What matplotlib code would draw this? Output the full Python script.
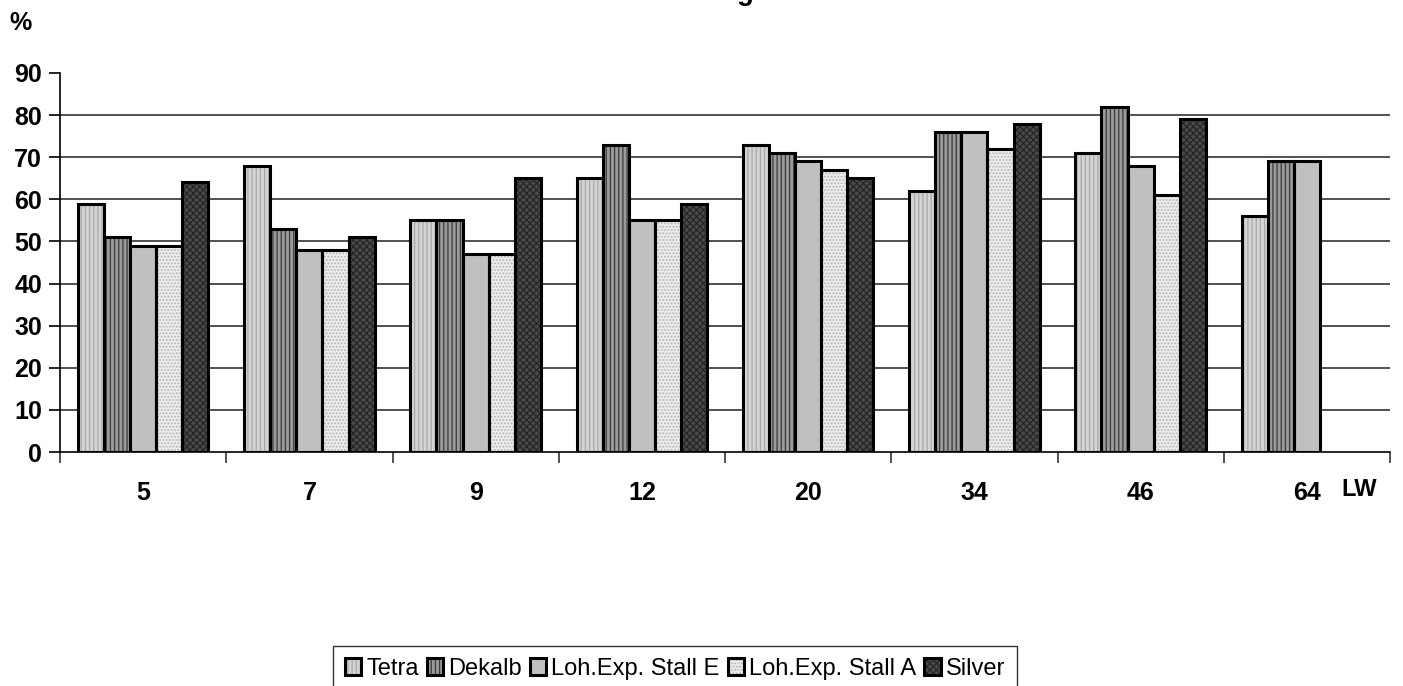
import numpy as np
import matplotlib
matplotlib.use("Agg")
import matplotlib.pyplot as plt
from matplotlib.legend_handler import HandlerTuple

plt.rcParams['font.family'] = ['Liberation Sans', 'DejaVu Sans']
plt.rcParams['hatch.linewidth'] = 0.9

# data
weeks = ['5', '7', '9', '12', '20', '34', '46', '64']
series = ['Tetra', 'Dekalb', 'Loh.Exp. Stall E', 'Loh.Exp. Stall A', 'Silver']
tetra = [59, 68, 55, 65, 73, 62, 71, 56]
dekalb = [51, 53, 55, 73, 71, 76, 82, 69]
stall_e = [49, 48, 47, 55, 69, 76, 68, 69]
stall_a = [49, 48, 47, 55, 67, 72, 61, np.nan]
silver = [64, 51, 65, 59, 65, 78, 79, np.nan]
values = [tetra, dekalb, stall_e, stall_a, silver]

# (face, hatch, hatch colour)
styles = [
    ('#d4d4d4', '||||', '#a8a8a8'),
    ('#9a9a9a', '||||', '#3a3a3a'),
    ('#c0c0c0', '', '#c0c0c0'),
    ('#ececec', '.....', '#b4b4b4'),
    ('#4a4a4a', 'xxxxx', '#262626'),
]

fig = plt.figure(figsize=(14.03, 6.86), dpi=100)
ax = fig.add_axes([60 / 1403, 1 - 452 / 686, 1330 / 1403, 379 / 686])

x = np.arange(len(weeks))
w = 0.157
handles = []
for i, (vals, (fc, hatch, hc)) in enumerate(zip(values, styles)):
    pos = x + (i - 2) * w
    b1 = ax.bar(pos, vals, w, color=fc, hatch=hatch, edgecolor=hc, linewidth=0, zorder=3)
    b2 = ax.bar(pos, vals, w, facecolor='none', edgecolor='black', linewidth=2.2, zorder=4)
    handles.append((b1[0], b2[0]))

ax.set_xlim(-0.5, len(weeks) - 0.5)
ax.set_ylim(0, 90)
ax.set_yticks(range(0, 91, 10))
for yv in range(10, 90, 10):
    ax.axhline(yv, color='#333333', linewidth=1.2, zorder=1)

ax.set_xticks(x)
ax.set_xticklabels(weeks, fontsize=18, fontweight='bold')
ax.set_xticks(np.arange(-0.5, len(weeks)), minor=True)
ax.tick_params(axis='x', which='major', length=0, pad=21)
ax.tick_params(axis='x', which='minor', length=8, width=1.2, color='#333333', direction='out')
ax.tick_params(axis='y', length=8, width=1.2, direction='out', pad=5)
for lab in ax.get_yticklabels():
    lab.set_fontsize(18)
    lab.set_fontweight('bold')

for s in ['top', 'right']:
    ax.spines[s].set_visible(False)
ax.spines['left'].set_linewidth(1.2)
ax.spines['bottom'].set_linewidth(1.2)

fig.text(21 / 1403, 1 - 23 / 686, '%', fontsize=18, fontweight='bold', ha='center', va='center')
fig.text(1359 / 1403, 1 - 490 / 686, 'LW', fontsize=17, fontweight='bold', ha='center', va='center')
fig.text(745 / 1403, 1.0, 'g', fontsize=20, fontweight='bold', ha='center', va='baseline')

fig.legend(handles, series, handler_map={tuple: HandlerTuple(ndivide=1)},
           loc='upper left', bbox_to_anchor=(333 / 1403, 1 - 646 / 686),
           ncol=5, fontsize=17, frameon=True, fancybox=False, edgecolor='black',
           handlelength=0.7, handleheight=0.7, handletextpad=0.2,
           columnspacing=0.35, borderpad=0.5, borderaxespad=0)

fig.savefig('out.png', dpi=100)
